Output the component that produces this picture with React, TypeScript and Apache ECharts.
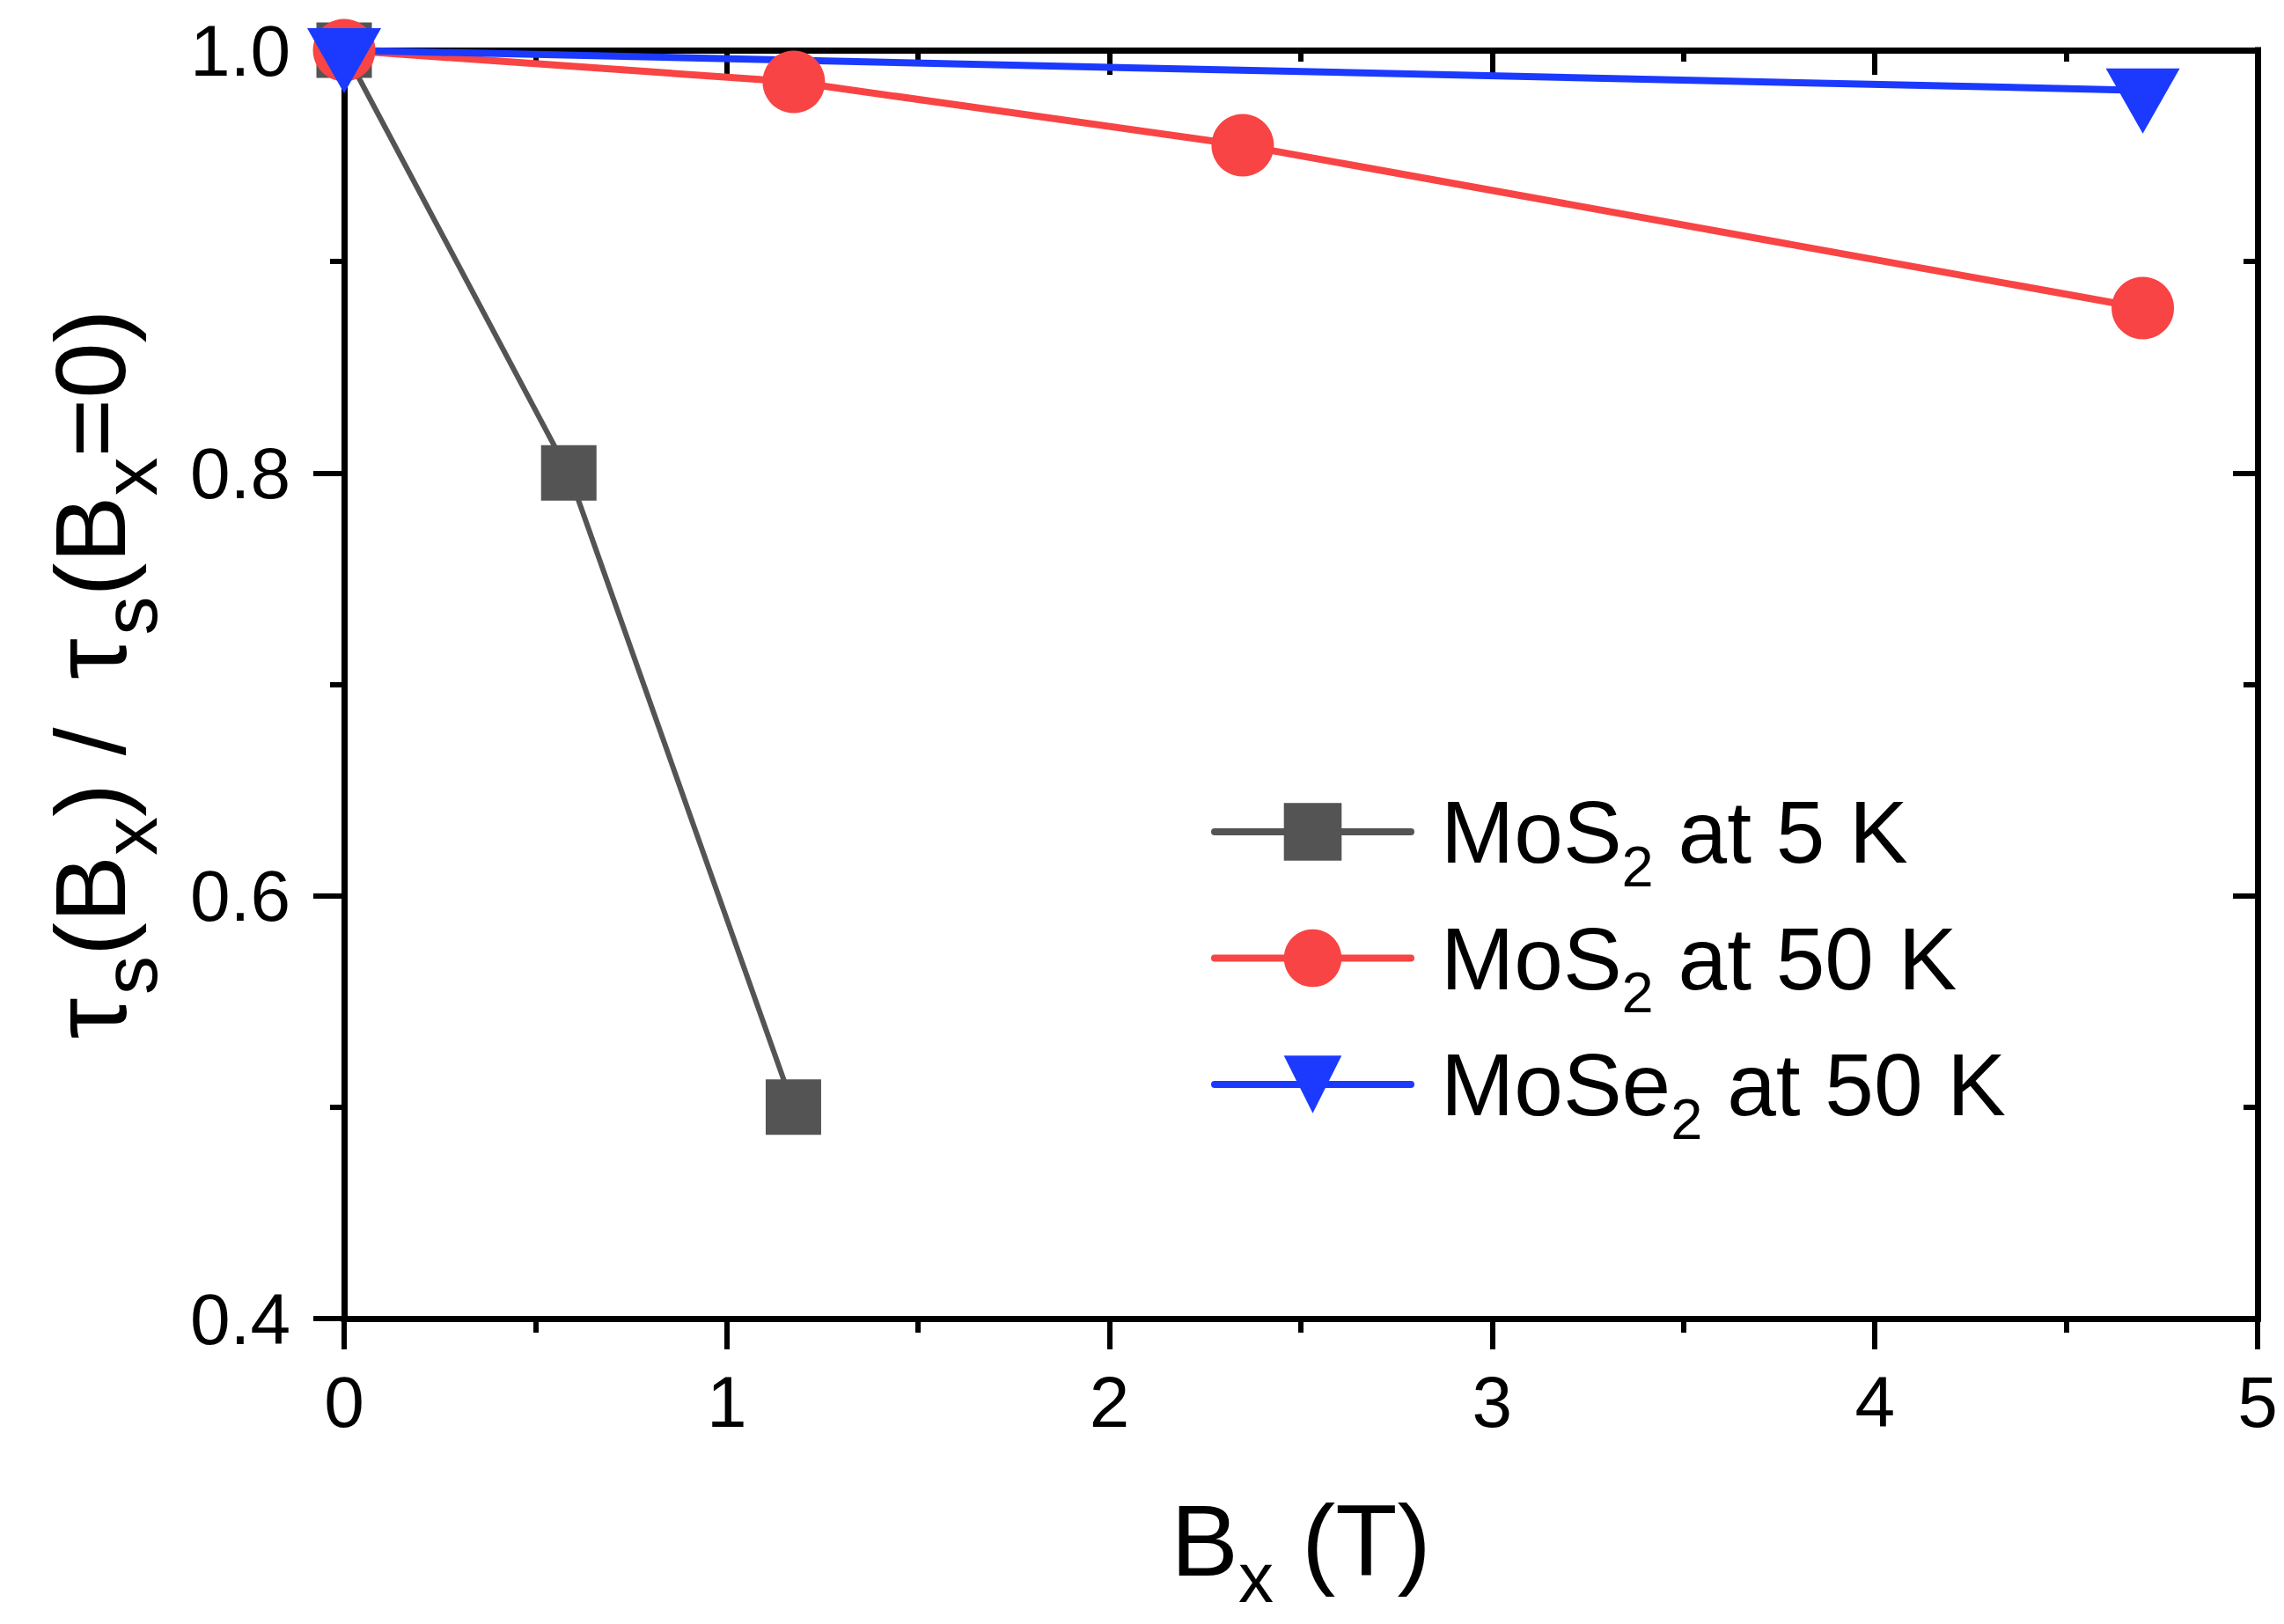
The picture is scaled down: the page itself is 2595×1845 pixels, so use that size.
import React, { useEffect, useRef } from "react";
import * as echarts from "echarts";

const FONT = "'Liberation Sans', Arial, Helvetica, sans-serif";

// Data
const seriesNames = ["MoS2 at 5 K", "MoS2 at 50 K", "MoSe2 at 50 K"];
const seriesColors = ["#545454", "#F84444", "#1B3AFE"];

const bxMoS2_5K = [0, 0.587, 1.174];
const tauMoS2_5K = [1.0, 0.8, 0.5];

const bxMoS2_50K = [0, 1.175, 2.348, 4.7];
const tauMoS2_50K = [1.0, 0.985, 0.955, 0.878];

const bxMoSe2_50K = [0, 4.7];
const tauMoSe2_50K = [1.0, 0.981];

const xTicks = { min: 0, max: 5, interval: 1 };
const yTicks = { min: 0.4, max: 1.0, interval: 0.2 };

const pairs = (xs: number[], ys: number[]) => xs.map((x, i) => [x, ys[i]]);

const legendRich = (name: string) => {
  const m = name.match(/^(\D+)(\d)(.*)$/);
  if (!m) return `{n|${name}}`;
  return `{n|${m[1]}}{s|${m[2]}}{n|${m[3]}}`;
};

export default function App() {
  const ref = useRef<HTMLDivElement>(null);

  useEffect(() => {
    if (!ref.current) return;
    const chart = echarts.init(ref.current, undefined, { renderer: "svg" });

    const axisLine = { show: true, onZero: false, lineStyle: { color: "#000", width: 7, cap: "square" } };
    const tickStyle = { color: "#000", width: 6 };

    const option: any = {
      animation: false,
      backgroundColor: "#ffffff",
      grid: { left: 391, right: 30, top: 57, bottom: 347, containLabel: false },
      xAxis: [
        {
          type: "value",
          position: "bottom",
          min: xTicks.min,
          max: xTicks.max,
          interval: xTicks.interval,
          axisLine,
          axisTick: { show: true, inside: false, length: 35, lineStyle: tickStyle },
          minorTick: { show: true, splitNumber: 2, length: 16, lineStyle: tickStyle },
          splitLine: { show: false },
          axisLabel: { fontSize: 82, color: "#000", fontFamily: FONT, margin: 53 },
          name: "{b|B}{s|x}{b| (T)}",
          nameLocation: "middle",
          nameGap: 194,
          nameTextStyle: {
            fontFamily: FONT,
            fontSize: 115,
            color: "#000",
            rich: {
              b: { fontFamily: FONT, fontSize: 115, lineHeight: 115, color: "#000", verticalAlign: "middle" },
              s: { fontFamily: FONT, fontSize: 80, height: 29, color: "#000", verticalAlign: "bottom" },
            },
          },
        },
        {
          type: "value",
          position: "top",
          min: xTicks.min,
          max: xTicks.max,
          interval: xTicks.interval,
          axisLine,
          axisTick: { show: true, inside: true, length: 28, lineStyle: tickStyle },
          minorTick: { show: true, splitNumber: 2, length: 13, lineStyle: tickStyle },
          splitLine: { show: false },
          axisLabel: { show: false },
        },
      ],
      yAxis: [
        {
          type: "value",
          position: "left",
          min: yTicks.min,
          max: yTicks.max,
          interval: yTicks.interval,
          axisLine,
          axisTick: { show: true, inside: false, length: 35, lineStyle: tickStyle },
          minorTick: { show: true, splitNumber: 2, length: 16, lineStyle: tickStyle },
          splitLine: { show: false },
          axisLabel: {
            fontSize: 82,
            color: "#000",
            fontFamily: FONT,
            margin: 61,
            formatter: (v: number) => v.toFixed(1),
          },
          name: "{t|τ}{s|s}{b|(B}{s|x}{b|) / }{t|τ}{s|s}{b|(B}{s|x}{b|=0)}",
          nameLocation: "middle",
          nameRotate: 90,
          nameGap: 232,
          nameTextStyle: {
            fontFamily: FONT,
            fontSize: 114,
            color: "#000",
            rich: {
              b: { fontFamily: FONT, fontSize: 114, lineHeight: 114, color: "#000", verticalAlign: "middle" },
              t: {
                fontFamily: FONT,
                fontSize: 118,
                lineHeight: 114,
                color: "#000",
                verticalAlign: "middle",
                padding: [0, 4, 0, 23],
              },
              s: { fontFamily: FONT, fontSize: 88, height: 23, color: "#000", verticalAlign: "bottom" },
            },
          },
        },
        {
          type: "value",
          position: "right",
          min: yTicks.min,
          max: yTicks.max,
          interval: yTicks.interval,
          axisLine,
          axisTick: { show: true, inside: true, length: 28, lineStyle: tickStyle },
          minorTick: { show: true, splitNumber: 2, length: 16, lineStyle: tickStyle },
          splitLine: { show: false },
          axisLabel: { show: false },
        },
      ],
      legend: {
        orient: "vertical",
        left: 1376,
        top: 895,
        padding: 0,
        itemGap: 22,
        itemWidth: 223,
        itemHeight: 82,
        selectedMode: false,
        data: seriesNames,
        formatter: (name: string) => legendRich(name),
        lineStyle: { width: 8, cap: "round" },
        textStyle: {
          fontFamily: FONT,
          fontSize: 100,
          color: "#000",
          padding: [0, 0, 0, 29],
          rich: {
            n: { fontFamily: FONT, fontSize: 100, lineHeight: 100, color: "#000", verticalAlign: "middle" },
            s: { fontFamily: FONT, fontSize: 65, height: 22, color: "#000", verticalAlign: "bottom" },
          },
        },
      },
      series: [
        {
          name: seriesNames[0],
          type: "line",
          data: pairs(bxMoS2_5K, tauMoS2_5K),
          symbol: "rect",
          symbolSize: 63,
          clip: false,
          lineStyle: { width: 6, color: seriesColors[0] },
          itemStyle: { color: seriesColors[0] },
        },
        {
          name: seriesNames[1],
          type: "line",
          data: pairs(bxMoS2_50K, tauMoS2_50K),
          symbol: "circle",
          symbolSize: 71,
          clip: false,
          lineStyle: { width: 8, color: seriesColors[1] },
          itemStyle: { color: seriesColors[1] },
        },
        {
          name: seriesNames[2],
          type: "line",
          data: pairs(bxMoSe2_50K, tauMoSe2_50K),
          symbol: "triangle",
          symbolSize: [84, 74],
          symbolRotate: 180,
          symbolOffset: [0, 12],
          clip: false,
          lineStyle: { width: 8, color: seriesColors[2] },
          itemStyle: { color: seriesColors[2] },
        },
      ],
    };

    chart.setOption(option);
    return () => chart.dispose();
  }, []);

  return (
    <div
      ref={ref}
      style={{ position: "absolute", left: 0, top: 0, width: 2595, height: 1845, background: "#fff" }}
    />
  );
}
